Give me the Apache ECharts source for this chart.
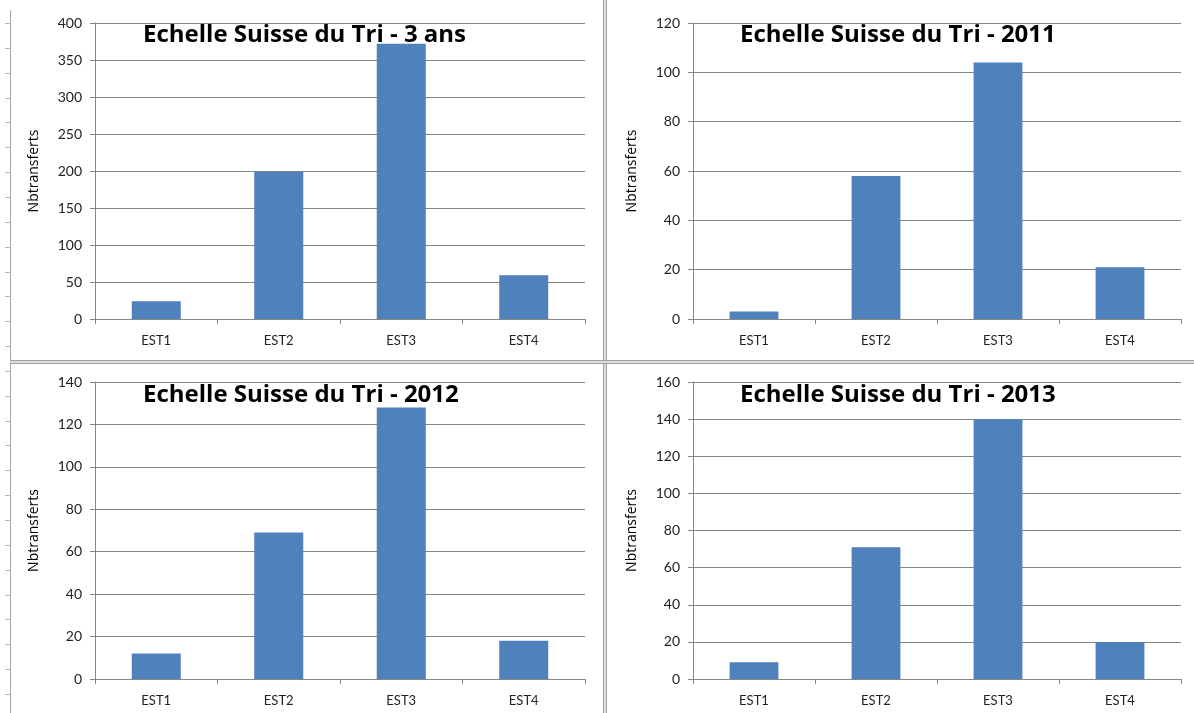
<!DOCTYPE html>
<html>
<head>
<meta charset="utf-8">
<title>Echelle Suisse du Tri</title>
<script src="https://cdn.jsdelivr.net/npm/echarts@6/dist/echarts.min.js"></script>
<style>
    html, body { margin: 0; padding: 0; background: #fff; }
    #main { width: 1194px; height: 713px; }
</style>
</head>
<body>
<div id="main"></div>
<script>
// categories and values
var categories = ['EST1', 'EST2', 'EST3', 'EST4'];
var values3ans = [24, 199, 372, 59];
var values2011 = [3, 58, 104, 21];
var values2012 = [12, 69, 128, 18];
var values2013 = [9, 71, 140, 20];
var chartTitles = ['Echelle Suisse du Tri - 3 ans', 'Echelle Suisse du Tri - 2011',
    'Echelle Suisse du Tri - 2012', 'Echelle Suisse du Tri - 2013'];
var yMax = [400, 120, 140, 160];
var yStep = [50, 20, 20, 20];
var yName = 'Nbtransferts';

var allValues = [values3ans, values2011, values2012, values2013];

// one panel per quadrant
var panels = [
    {left: 95, top: 23, width: 490, height: 296, titleLeft: 143, titleTop: 23},
    {left: 693, top: 23, width: 488, height: 296, titleLeft: 740, titleTop: 23},
    {left: 95, top: 382, width: 490, height: 297, titleLeft: 143, titleTop: 383},
    {left: 693, top: 382, width: 488, height: 297, titleLeft: 740, titleTop: 383}
];

var lineColor = '#868686';
var textColor = '#222';
var font = 'Lato, "Open Sans", sans-serif';
var titleFont = '"Open Sans", Lato, sans-serif';

var titles = [], grids = [], xAxes = [], yAxes = [], series = [];
for (var i = 0; i < panels.length; i++) {
    var p = panels[i];
    titles.push({
        text: chartTitles[i],
        left: p.titleLeft,
        top: p.titleTop,
        padding: 0,
        textStyle: {fontFamily: titleFont, fontWeight: 'bold', fontSize: 24, color: '#000'}
    });
    grids.push({left: p.left, top: p.top, width: p.width, height: p.height, containLabel: false});
    xAxes.push({
        type: 'category',
        gridIndex: i,
        data: categories,
        axisLine: {lineStyle: {color: lineColor, width: 1}},
        axisTick: {show: true, length: 5, lineStyle: {color: lineColor}},
        axisLabel: {color: textColor, fontFamily: font, fontSize: 13, margin: 15}
    });
    yAxes.push({
        type: 'value',
        gridIndex: i,
        min: 0,
        max: yMax[i],
        interval: yStep[i],
        name: yName,
        nameLocation: 'middle',
        nameRotate: 90,
        nameGap: 54,
        nameTextStyle: {color: '#000', fontFamily: titleFont, fontSize: 14},
        axisLine: {show: true, lineStyle: {color: lineColor, width: 1}},
        axisTick: {show: true, length: 5, lineStyle: {color: lineColor}},
        splitLine: {show: true, lineStyle: {color: lineColor, width: 1}},
        axisLabel: {color: textColor, fontFamily: font, fontSize: 14, margin: 13}
    });
    series.push({
        type: 'bar',
        xAxisIndex: i,
        yAxisIndex: i,
        data: allValues[i],
        barWidth: '40%',
        itemStyle: {color: '#4f81bd'},
        silent: true
    });
}

// sheet frame and separators
var frame = [
    {type: 'rect', shape: {x: 10, y: 10, width: 1, height: 703}, style: {fill: '#a6a6a6'}, silent: true},
    {type: 'rect', shape: {x: 603, y: 0, width: 1, height: 713}, style: {fill: '#a0a0a0'}, silent: true},
    {type: 'rect', shape: {x: 604, y: 0, width: 2, height: 713}, style: {fill: '#dcdcdc'}, silent: true},
    {type: 'rect', shape: {x: 606, y: 0, width: 1, height: 713}, style: {fill: '#a0a0a0'}, silent: true},
    {type: 'rect', shape: {x: 10, y: 360, width: 1184, height: 1}, style: {fill: '#a0a0a0'}, silent: true},
    {type: 'rect', shape: {x: 10, y: 361, width: 1184, height: 2}, style: {fill: '#dcdcdc'}, silent: true},
    {type: 'rect', shape: {x: 10, y: 363, width: 1184, height: 1}, style: {fill: '#a0a0a0'}, silent: true}
];
for (var y = 23; y < 713; y += 24.85) {
    frame.push({type: 'rect', shape: {x: 5, y: Math.round(y), width: 5, height: 1}, style: {fill: '#b4b4b4'}, silent: true});
}

var myChart = echarts.init(document.getElementById('main'), null, {renderer: 'canvas'});
myChart.setOption({
    backgroundColor: '#fff',
    animation: false,
    title: titles,
    grid: grids,
    xAxis: xAxes,
    yAxis: yAxes,
    series: series,
    graphic: frame
});
</script>
</body>
</html>
